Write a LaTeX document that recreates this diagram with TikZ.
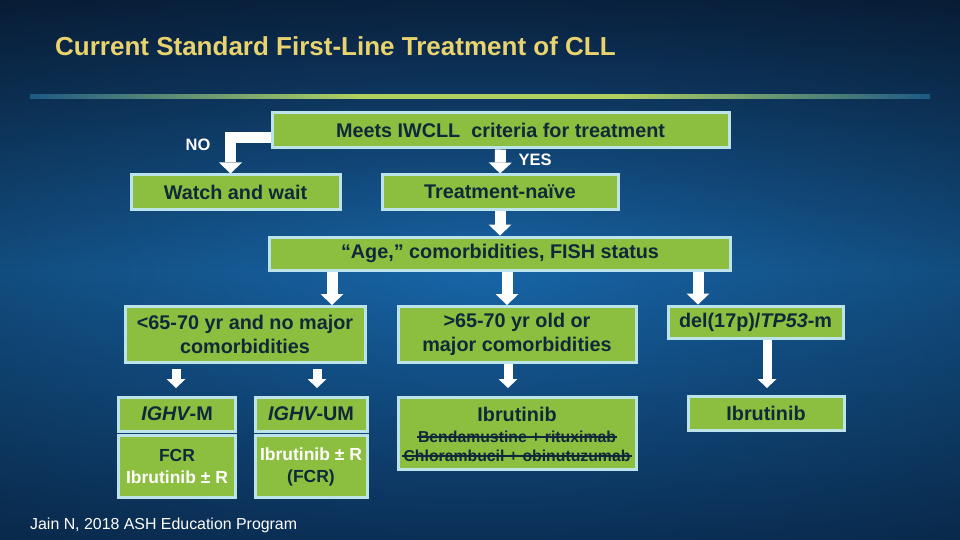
\documentclass[tikz,border=0pt]{standalone}
\usepackage{fontspec}
\setmainfont{Liberation Sans}
\usetikzlibrary{arrows.meta,fadings}
\definecolor{bgtop}{HTML}{0C2B50}
\definecolor{bgmid}{HTML}{1866A8}
\definecolor{bgbot}{HTML}{0E3E70}
\definecolor{titc}{HTML}{E9D36E}
\definecolor{boxg}{HTML}{8CBF3F}
\definecolor{bordc}{HTML}{BDE3EA}
\definecolor{txtc}{HTML}{10283A}
\definecolor{lineg}{HTML}{B0D060}
\definecolor{linee}{HTML}{1D5A84}
\pgfdeclarelayer{bg}
\pgfdeclarelayer{arr}
\pgfsetlayers{bg,arr,main}
\tikzfading[name=vign, inner color=transparent!100, outer color=transparent!0]
\begin{document}
\begin{tikzpicture}[x=1pt,y=-1pt,
  box/.style={draw=bordc, line width=3pt, fill=boxg, text=txtc, inner sep=0pt, align=center,
    font=\bfseries\fontsize{19.8}{24.5}\selectfont},
  smallbox/.style={box, font=\bfseries\fontsize{17.5}{22}\selectfont},
  bigarrow/.style={draw=white, line width=11pt, -{Triangle[length=11pt,width=23pt,line width=0pt]}},
  smallarrow/.style={draw=white, line width=9pt, -{Triangle[length=9pt,width=19pt,line width=0pt]}},
  lbl/.style={text=white, font=\bfseries\fontsize{16.5}{19}\selectfont, inner sep=0pt},
  strike/.style={text=txtc, font=\bfseries\fontsize{15.8}{18}\selectfont, inner sep=0pt, text height=11pt, text depth=0pt},
  strikeline/.style={draw=txtc, line width=1.4pt}
]
\useasboundingbox (0,0) rectangle (960,540);
\begin{pgfonlayer}{bg}
  \shade[top color=bgtop, bottom color=bgbot, middle color=bgmid] (0,0) rectangle (960,540);
  \fill[black, opacity=0.35, path fading=vign] (-200,-150) rectangle (1160,690);
  \shade[left color=linee, right color=lineg] (30,94.5) rectangle (360,98.5);
  \shade[left color=lineg, right color=lineg] (359.5,94.5) rectangle (620.5,98.5);
  \shade[left color=lineg, right color=linee] (620,94.5) rectangle (930,98.5);
\end{pgfonlayer}

\node[anchor=west, text=titc, font=\bfseries\fontsize{26}{30}\selectfont, inner sep=0pt] (title) at (55,46) {Current Standard First-Line Treatment of CLL};

\node[box, minimum width=457pt, minimum height=35pt] (crit) at (500.5,130.5) {Meets IWCLL\ \ criteria for treatment};
\node[box, minimum width=209pt, minimum height=34pt] (watch) at (235.5,192) {Watch and wait};
\node[box, minimum width=236pt, minimum height=34pt] (naive) at (500,192) {Treatment-naïve};
\node[box, minimum width=461pt, minimum height=33pt] (age) at (500,253.5) {“Age,” comorbidities, FISH status};
\node[box, minimum width=240pt, minimum height=56pt] (young) at (245,334.5) {<65-70 yr and no major\\comorbidities};
\node[box, minimum width=238pt, minimum height=56pt] (old) at (517,334.5) {>65-70 yr old or\\major comorbidities};
\node[box, minimum width=175pt, minimum height=32pt] (del) at (755.5,322) {del(17p)/{\itshape TP53}-m};
\node[box, minimum width=117pt, minimum height=34pt] (ighvm) at (177,414) {{\itshape IGHV}-M};
\node[box, minimum width=112pt, minimum height=34pt] (ighvum) at (311,414) {{\itshape IGHV}-UM};
\node[smallbox, minimum width=117pt, minimum height=62pt] (fcr) at (177,466.5) {FCR\\\textcolor{white}{Ibrutinib ± R}};
\node[smallbox, minimum width=112pt, minimum height=62pt] (ibrr) at (311,466.5) {\textcolor{white}{Ibrutinib ± R}\\(FCR)};
\node[box, minimum width=238pt, minimum height=72pt] (ibrb) at (517,433.5) {};
\node[box, minimum width=156pt, minimum height=34pt] (ibrc) at (766,413.5) {Ibrutinib};

\node[text=txtc, font=\bfseries\fontsize{19.8}{24}\selectfont, inner sep=0pt] (ibrbt) at (517,414) {Ibrutinib};
\node[strike] (s1) at (517,437) {Bendamustine + rituximab};
\node[strike] (s2) at (517,456) {Chlorambucil + obinutuzumab};
\draw[strikeline] ([xshift=-1pt]s1.west) -- ([xshift=1pt]s1.east);
\draw[strikeline] ([xshift=-1pt]s2.west) -- ([xshift=1pt]s2.east);

\node[lbl] (no) at (198,145) {NO};
\node[lbl] (yes) at (535,160) {YES};

\node[anchor=west, text=white, font=\fontsize{15.9}{18}\selectfont, inner sep=0pt] (foot) at (30,525) {Jain N, 2018 ASH Education Program};

\coordinate (a1) at (332,0);
\coordinate (a2) at (507,0);
\coordinate (a3) at (698,0);
\coordinate (b1) at (176,0);
\coordinate (b2) at (317,0);
\coordinate (b3) at (508,0);
\coordinate (b4) at (767,0);
\coordinate (s) at (0,369);
\coordinate (e) at (0,388);

\begin{pgfonlayer}{arr}
  \draw[bigarrow] ([yshift=-7pt]crit.west) -| ([xshift=-5pt]watch.north);
  \draw[bigarrow] (crit.south) -- (naive.north);
  \draw[bigarrow] (naive.south) -- (age.north);
  \draw[bigarrow] (age.south -| a1) -- (young.north -| a1);
  \draw[bigarrow] (age.south -| a2) -- (old.north -| a2);
  \draw[bigarrow] (age.south -| a3) -- (del.north -| a3);
  \draw[smallarrow] (s -| b1) -- (e -| b1);
  \draw[smallarrow] (s -| b2) -- (e -| b2);
  \draw[smallarrow] (old.south -| b3) -- (e -| b3);
  \draw[smallarrow] (del.south -| b4) -- (e -| b4);
\end{pgfonlayer}
\end{tikzpicture}
\end{document}
